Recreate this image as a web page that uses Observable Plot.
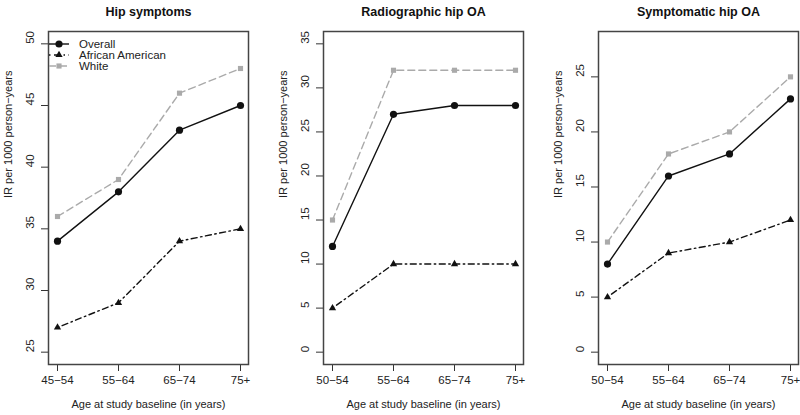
<!DOCTYPE html>
<html><head><meta charset="utf-8">
<script src="https://cdn.jsdelivr.net/npm/d3@7"></script>
<script src="https://cdn.jsdelivr.net/npm/@observablehq/plot@0.6"></script>
<style>
body{margin:0;background:#fff;font-family:"Liberation Sans",Arial,sans-serif;}
#wrap{position:relative;width:800px;height:415px;overflow:hidden;}
.panel{position:absolute;top:0;}
</style></head><body><div id="wrap"></div>
<script>
// ---- data ----
const groups = ["Overall", "African American", "White"];
const panelTitles = ["Hip symptoms", "Radiographic hip OA", "Symptomatic hip OA"];
const agesHipSymptoms = ["45−54", "55−64", "65−74", "75+"];
const agesOA = ["50−54", "55−64", "65−74", "75+"];

const hipSymptomsOverall = [34, 38, 43, 45];
const hipSymptomsAA = [27, 29, 34, 35];
const hipSymptomsWhite = [36, 39, 46, 48];

const radOAOverall = [12, 27, 28, 28];
const radOAAA = [5, 10, 10, 10];
const radOAWhite = [15, 32, 32, 32];

const symOAOverall = [8, 16, 18, 23];
const symOAAA = [5, 9, 10, 12];
const symOAWhite = [10, 18, 20, 25];

const yTicksHipSymptoms = [25, 30, 35, 40, 45, 50];
const yTicksRadOA = [0, 5, 10, 15, 20, 25, 30, 35];
const yTicksSymOA = [0, 5, 10, 15, 20, 25];

const yLabel = "IR per 1000 person−years";
const xLabel = "Age at study baseline (in years)";

// ---- styles ----
const groupStyle = {
  "Overall": {stroke: "#111", dash: null, symbol: "circle", fill: "#111", r: 3.6},
  "African American": {stroke: "#111", dash: "1.5,3.5,6,3.5", symbol: "triangle", fill: "#111", r: 2.7},
  "White": {stroke: "#aaaaaa", dash: "7,4", symbol: "square", fill: "#aaaaaa", r: 2.9}
};
const font = '"Liberation Sans", Arial, sans-serif';

function pad(lo, hi) { const d = (hi - lo) * 0.04; return [lo - d, hi + d]; }

const panels = [
  {left: 0, width: 265, ml: 48, mr: 17, ages: agesHipSymptoms, series: [hipSymptomsOverall, hipSymptomsAA, hipSymptomsWhite], ylim: [25, 50], yticks: yTicksHipSymptoms, title: panelTitles[0], legend: true},
  {left: 265, width: 265, ml: 58, mr: 7, ages: agesOA, series: [radOAOverall, radOAAA, radOAWhite], ylim: [0, 35], yticks: yTicksRadOA, title: panelTitles[1]},
  {left: 530, width: 270, ml: 68, mr: 2, ages: agesOA, series: [symOAOverall, symOAAA, symOAWhite], ylim: [0, 28], yticks: yTicksSymOA, title: panelTitles[2]}
];

const wrap = document.getElementById("wrap");

for (const cfg of panels) {
  const rows = [];
  groups.forEach((g, gi) => cfg.series[gi].forEach((v, i) => rows.push({age: cfg.ages[i], value: v, group: g})));
  const marks = [];
  for (const g of ["White", "Overall", "African American"]) {
    const s = groupStyle[g];
    const data = rows.filter(d => d.group === g);
    marks.push(Plot.line(data, {x: "age", y: "value", stroke: s.stroke, strokeWidth: 1.4, strokeDasharray: s.dash}));
    marks.push(Plot.dot(data, {x: "age", y: "value", symbol: s.symbol, fill: s.fill, stroke: "none", r: s.r}));
  }
  const plot = Plot.plot({
    width: cfg.width, height: 415,
    marginLeft: cfg.ml, marginRight: cfg.mr, marginTop: 31, marginBottom: 51,
    style: {fontFamily: font, fontSize: "11.5px", color: "#222", background: "white", overflow: "visible"},
    x: {type: "point", domain: cfg.ages, padding: 0.12},
    y: {domain: pad(cfg.ylim[0], cfg.ylim[1])},
    marks: [
      Plot.axisX({tickSize: 7, tickPadding: 4, label: null, fontSize: 11.5, stroke: "#333"}),
      Plot.axisY({ticks: cfg.yticks, tickSize: 7, tickFormat: () => "", label: null, stroke: "#333"}),
      Plot.text(cfg.yticks, {y: d => d, text: d => String(d), frameAnchor: "left", dx: -18, rotate: -90, fontSize: 11.5, fill: "#222"}),
      ...marks,
      Plot.frame({stroke: "#444", strokeWidth: 1.5}),
      Plot.text([cfg.title], {text: d => d, frameAnchor: "top", dy: -24, fontWeight: "bold", fontSize: 12.5, fill: "#111"}),
      Plot.text([xLabel], {text: d => d, frameAnchor: "bottom", dy: 43, fontSize: 11, fill: "#222"}),
      Plot.text([yLabel], {text: d => d, frameAnchor: "left", dx: -40, rotate: -90, fontSize: 11, fill: "#222"})
    ]
  });
  const div = document.createElement("div");
  div.className = "panel";
  div.style.left = cfg.left + "px";
  div.appendChild(plot);
  wrap.appendChild(div);

  if (cfg.legend) {
    const svg = d3.select(div).append("svg")
      .attr("width", 160).attr("height", 40)
      .style("position", "absolute").style("left", "46px").style("top", "37px")
      .style("font-family", font).style("font-size", "11.5px");
    groups.forEach((g, i) => {
      const s = groupStyle[g];
      const y = 7 + i * 11;
      svg.append("line").attr("x1", 3).attr("x2", 23).attr("y1", y).attr("y2", y)
        .attr("stroke", s.stroke).attr("stroke-width", 1.4).attr("stroke-dasharray", s.dash);
      const sym = {circle: d3.symbolCircle, triangle: d3.symbolTriangle, square: d3.symbolSquare}[s.symbol];
      svg.append("path").attr("d", d3.symbol(sym, Math.PI * s.r * s.r)())
        .attr("transform", `translate(13,${y})`).attr("fill", s.fill);
      svg.append("text").attr("x", 33).attr("y", y).attr("dy", "0.35em").attr("fill", "#222").text(g);
    });
  }
}
</script></body></html>
